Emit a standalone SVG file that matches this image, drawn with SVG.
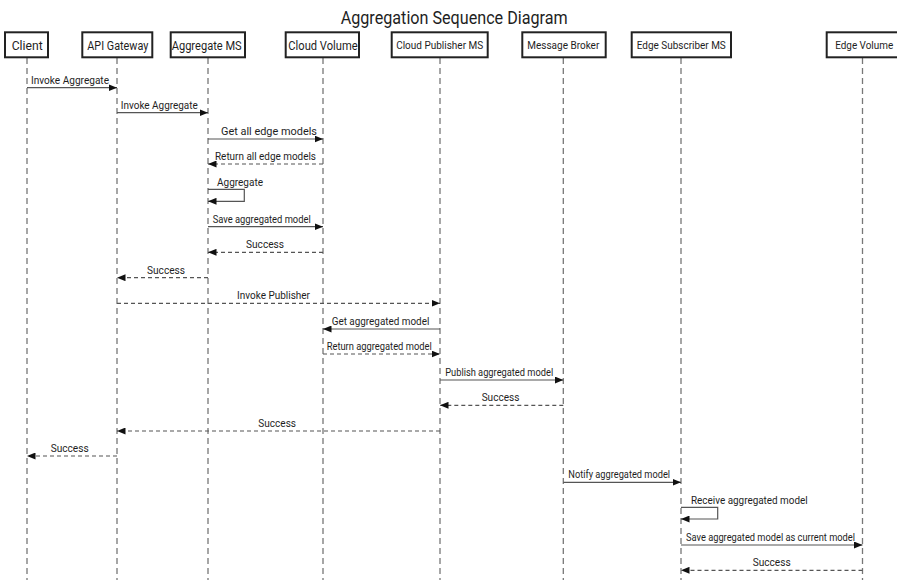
<svg xmlns="http://www.w3.org/2000/svg" width="897" height="580" viewBox="0 0 897 580">
<style>
  text { font-family: Roboto, "Liberation Sans", sans-serif; fill: #1e1e1e; }
  .title { font-size: 17.5px; text-anchor: middle; }
  .big { font-size: 12.5px; text-anchor: middle; }
  .small { font-size: 11px; text-anchor: middle; }
  .lbl { font-size: 10.5px; text-anchor: middle; }
  .lbls { font-size: 10.5px; text-anchor: start; }
  .box { fill: #ffffff; stroke: #222222; stroke-width: 2; }
  .life { stroke: #777777; stroke-width: 1.3; stroke-dasharray: 6 4; fill: none; }
  .msg { stroke: #555555; stroke-width: 1.2; fill: none; marker-end: url(#ah); }
  .ret { stroke: #555555; stroke-width: 1.2; fill: none; stroke-dasharray: 4 3; marker-end: url(#ah); }
</style>
<defs>
  <marker id="ah" markerUnits="userSpaceOnUse" markerWidth="9" markerHeight="7" refX="8.5" refY="3.5" orient="auto">
    <path d="M0,0 L8.5,3.5 L0,7 z" fill="#111111"/>
  </marker>
</defs>
<rect width="897" height="580" fill="#ffffff"/>
<text class="title" x="454.2" y="24" textLength="227" lengthAdjust="spacingAndGlyphs">Aggregation Sequence Diagram</text>

<g id="lifelines">
  <line class="life" x1="27" y1="58" x2="27" y2="580"/>
  <line class="life" x1="117" y1="58" x2="117" y2="580"/>
  <line class="life" x1="208" y1="58" x2="208" y2="580"/>
  <line class="life" x1="323" y1="58" x2="323" y2="580"/>
  <line class="life" x1="440" y1="58" x2="440" y2="580"/>
  <line class="life" x1="563.3" y1="58" x2="563.3" y2="580"/>
  <line class="life" x1="681" y1="58" x2="681" y2="580"/>
  <line class="life" x1="862.5" y1="58" x2="862.5" y2="580"/>
</g>

<g id="client"><rect class="box" x="5" y="32.3" width="43" height="25"/><text class="big" x="27.2" y="49.5" textLength="31" lengthAdjust="spacingAndGlyphs">Client</text></g>
<g id="api-gateway"><rect class="box" x="82.3" y="32.3" width="70" height="25"/><text class="big" x="117.8" y="49.5" textLength="61" lengthAdjust="spacingAndGlyphs">API Gateway</text></g>
<g id="aggregate-ms"><rect class="box" x="170.7" y="32.3" width="74.3" height="25"/><text class="big" x="206.7" y="49.5" textLength="70" lengthAdjust="spacingAndGlyphs">Aggregate MS</text></g>
<g id="cloud-volume"><rect class="box" x="285.7" y="32.3" width="73.3" height="25"/><text class="big" x="323" y="49.5" textLength="69.3" lengthAdjust="spacingAndGlyphs">Cloud Volume</text></g>
<g id="cloud-publisher-ms"><rect class="box" x="391.7" y="32.3" width="96" height="25"/><text class="small" x="439.7" y="49" textLength="87" lengthAdjust="spacingAndGlyphs">Cloud Publisher MS</text></g>
<g id="message-broker"><rect class="box" x="522.3" y="32.3" width="83.4" height="25"/><text class="small" x="563.3" y="49" textLength="72" lengthAdjust="spacingAndGlyphs">Message Broker</text></g>
<g id="edge-subscriber-ms"><rect class="box" x="631.7" y="32.3" width="99.3" height="25"/><text class="small" x="681.3" y="49" textLength="89" lengthAdjust="spacingAndGlyphs">Edge Subscriber MS</text></g>
<g id="edge-volume"><rect class="box" x="826.7" y="32.3" width="80" height="25"/><text class="small" x="864.2" y="49" textLength="58" lengthAdjust="spacingAndGlyphs">Edge Volume</text></g>

<g id="connectors">
  <line class="msg" x1="27" y1="87.7" x2="117" y2="87.7"/>
  <line class="msg" x1="117" y1="112.7" x2="208" y2="112.7"/>
  <line class="msg" x1="208" y1="139" x2="323" y2="139"/>
  <line class="ret" x1="323" y1="164" x2="208" y2="164"/>
  <polyline class="msg" points="208,189.3 244.3,189.3 244.3,201.3 208,201.3"/>
  <line class="msg" x1="208" y1="226.7" x2="323" y2="226.7"/>
  <line class="ret" x1="323" y1="252.3" x2="208" y2="252.3"/>
  <line class="ret" x1="208" y1="277.7" x2="117" y2="277.7"/>
  <line class="ret" x1="117" y1="303.3" x2="440" y2="303.3"/>
  <line class="msg" x1="440" y1="329" x2="323" y2="329"/>
  <line class="ret" x1="323" y1="354" x2="440" y2="354"/>
  <line class="msg" x1="440" y1="380" x2="563.3" y2="380"/>
  <line class="ret" x1="563.3" y1="405.3" x2="440" y2="405.3"/>
  <line class="ret" x1="440" y1="431" x2="117" y2="431"/>
  <line class="ret" x1="117" y1="456" x2="27" y2="456"/>
  <line class="msg" x1="563.3" y1="482.3" x2="681" y2="482.3"/>
  <polyline class="msg" points="681,507.3 717.7,507.3 717.7,519 681,519"/>
  <line class="msg" x1="681" y1="545" x2="862.5" y2="545"/>
  <line class="ret" x1="862.5" y1="570.3" x2="681" y2="570.3"/>
</g>

<g id="labels">
  <text class="lbl" x="70" y="84" textLength="78" lengthAdjust="spacingAndGlyphs">Invoke Aggregate</text>
  <text class="lbl" x="159.3" y="109" textLength="77" lengthAdjust="spacingAndGlyphs">Invoke Aggregate</text>
  <text class="lbl" x="269" y="135" textLength="96" lengthAdjust="spacingAndGlyphs">Get all edge models</text>
  <text class="lbl" x="265.5" y="160" textLength="101" lengthAdjust="spacingAndGlyphs">Return all edge models</text>
  <text class="lbls" x="217" y="185.5" textLength="46" lengthAdjust="spacingAndGlyphs">Aggregate</text>
  <text class="lbl" x="261.7" y="222.7" textLength="98" lengthAdjust="spacingAndGlyphs">Save aggregated model</text>
  <text class="lbl" x="265" y="248.3" textLength="38" lengthAdjust="spacingAndGlyphs">Success</text>
  <text class="lbl" x="166" y="273.7" textLength="38" lengthAdjust="spacingAndGlyphs">Success</text>
  <text class="lbl" x="273.5" y="299.3" textLength="73" lengthAdjust="spacingAndGlyphs">Invoke Publisher</text>
  <text class="lbl" x="380.5" y="325" textLength="97.7" lengthAdjust="spacingAndGlyphs">Get aggregated model</text>
  <text class="lbl" x="379.2" y="350" textLength="105" lengthAdjust="spacingAndGlyphs">Return aggregated model</text>
  <text class="lbl" x="499.2" y="376" textLength="108" lengthAdjust="spacingAndGlyphs">Publish aggregated model</text>
  <text class="lbl" x="500.5" y="401.3" textLength="37.7" lengthAdjust="spacingAndGlyphs">Success</text>
  <text class="lbl" x="277.2" y="427" textLength="37.7" lengthAdjust="spacingAndGlyphs">Success</text>
  <text class="lbl" x="69.7" y="452" textLength="38" lengthAdjust="spacingAndGlyphs">Success</text>
  <text class="lbl" x="619.2" y="478.3" textLength="101.7" lengthAdjust="spacingAndGlyphs">Notify aggregated model</text>
  <text class="lbls" x="691" y="504" textLength="116.7" lengthAdjust="spacingAndGlyphs">Receive aggregated model</text>
  <text class="lbl" x="770.5" y="541" textLength="169" lengthAdjust="spacingAndGlyphs">Save aggregated model as current model</text>
  <text class="lbl" x="771.7" y="566.3" textLength="38" lengthAdjust="spacingAndGlyphs">Success</text>
</g>
</svg>
